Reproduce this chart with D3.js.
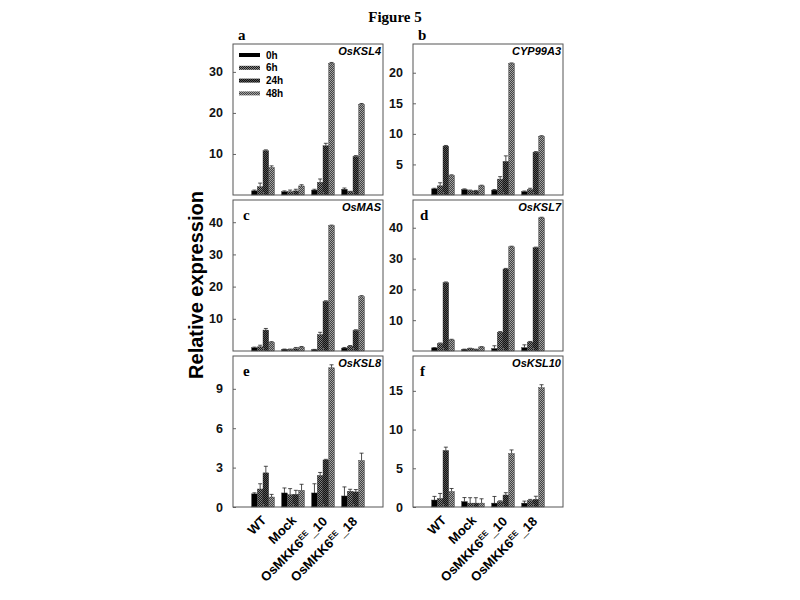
<!DOCTYPE html>
<html>
<head>
<meta charset="utf-8">
<script src="https://cdn.jsdelivr.net/npm/d3@7"></script>
<style>
  body { margin: 0; background: #fff; }
  svg { display: block; }
</style>
</head>
<body>
<div class="container"></div>
<script>
var width = 800, height = 600;

var categories = ["WT", "Mock", "OsMKK6EE_10", "OsMKK6EE_18"];
var series = ["0h", "6h", "24h", "48h"];

// values per panel: [category][series]
var ksl4   = [[1.0, 2.0, 10.8, 6.7], [0.8, 0.8, 1.0, 2.2], [1.2, 3.1, 12.0, 32.1], [1.4, 0.8, 9.4, 22.1]];
var ksl4E  = [[0.2, 0.9, 0.2, 0.4], [0.2, 0.4, 0.4, 0.3], [0.2, 0.8, 0.6, 0.2], [0.3, 0.1, 0.2, 0.2]];
var cyp    = [[1.0, 1.5, 8.0, 3.2], [0.9, 0.7, 0.65, 1.5], [0.8, 2.6, 5.5, 21.5], [0.55, 0.9, 7.0, 9.6]];
var cypE   = [[0.1, 0.5, 0.1, 0.1], [0.1, 0.1, 0.1, 0.1], [0.1, 0.4, 0.9, 0.1], [0.1, 0.2, 0.1, 0.1]];
var mas    = [[1.0, 1.3, 6.5, 2.7], [0.5, 0.5, 0.7, 1.2], [0.4, 5.1, 15.4, 38.9], [0.9, 1.5, 6.4, 16.9]];
var masE   = [[0.2, 0.5, 0.5, 0.2], [0.1, 0.1, 0.4, 0.2], [0.1, 0.7, 0.2, 0.2], [0.2, 0.2, 0.2, 0.3]];
var ksl7   = [[1.0, 2.4, 22.2, 3.6], [0.5, 0.8, 0.5, 1.3], [0.8, 6.1, 26.6, 33.8], [1.1, 2.9, 33.5, 43.2]];
var ksl7E  = [[0.1, 0.2, 0.2, 0.2], [0.1, 0.1, 0.1, 0.1], [0.9, 0.2, 0.2, 0.2], [0.9, 0.2, 0.2, 0.2]];
var ksl8   = [[1.0, 1.37, 2.6, 0.76], [1.07, 0.94, 0.97, 1.27], [1.07, 2.4, 3.58, 10.6], [0.84, 1.2, 1.15, 3.54]];
var ksl8E  = [[0.08, 0.4, 0.5, 0.2], [0.38, 0.46, 0.3, 0.46], [0.7, 0.23, 0.05, 0.23], [0.69, 0.15, 0.18, 0.56]];
var ksl10  = [[0.9, 1.1, 7.3, 2.0], [0.7, 0.5, 0.5, 0.5], [0.5, 0.7, 1.55, 6.9], [0.5, 0.85, 1.0, 15.4]];
var ksl10E = [[0.47, 0.65, 0.43, 0.39], [0.52, 0.7, 0.7, 0.56], [0.86, 0.1, 0.3, 0.47], [0.26, 0.13, 0.39, 0.39]];

var panels = [
  {letter: "a", gene: "OsKSL4",  vals: ksl4,  errs: ksl4E,  ymax: 36.8, ticks: [10, 20, 30],     col: 0, row: 0},
  {letter: "b", gene: "CYP99A3", vals: cyp,   errs: cypE,   ymax: 24.7, ticks: [5, 10, 15, 20],  col: 1, row: 0},
  {letter: "c", gene: "OsMAS",   vals: mas,   errs: masE,   ymax: 46.9, ticks: [10, 20, 30, 40], col: 0, row: 1},
  {letter: "d", gene: "OsKSL7",  vals: ksl7,  errs: ksl7E,  ymax: 49.0, ticks: [10, 20, 30, 40], col: 1, row: 1},
  {letter: "e", gene: "OsKSL8",  vals: ksl8,  errs: ksl8E,  ymax: 11.5, ticks: [0, 3, 6, 9],     col: 0, row: 2},
  {letter: "f", gene: "OsKSL10", vals: ksl10, errs: ksl10E, ymax: 19.5, ticks: [0, 5, 10, 15],   col: 1, row: 2}
];

var pw = 150, ph = 151;
var colX = [233, 413], rowY = [44, 200, 356];

var svg = d3.select("div.container").append("svg")
    .attr("width", width)
    .attr("height", height);

// checker fill patterns for the hatched bars
var defs = svg.append("defs");
var pat = [
  {id: "p6",  a: "#1a1a1a", b: "#808080"},
  {id: "p24", a: "#111111", b: "#555555"},
  {id: "p48", a: "#444444", b: "#a0a0a0"}
];
pat.forEach(function (p) {
  var g = defs.append("pattern").attr("id", p.id)
      .attr("width", 2).attr("height", 2).attr("patternUnits", "userSpaceOnUse");
  g.append("rect").attr("width", 2).attr("height", 2).attr("fill", p.b);
  g.append("rect").attr("width", 1).attr("height", 1).attr("fill", p.a);
  g.append("rect").attr("x", 1).attr("y", 1).attr("width", 1).attr("height", 1).attr("fill", p.a);
});
var fills = ["#000", "url(#p6)", "url(#p24)", "url(#p48)"];

var x0 = d3.scalePoint().domain(categories).range([0, pw]).padding(1);
var x1 = d3.scaleBand().domain(series).range([-11.4, 11.4]);

panels.forEach(function (p) {
  var g = svg.append("g")
      .attr("transform", "translate(" + colX[p.col] + "," + rowY[p.row] + ")");
  var y = d3.scaleLinear().domain([0, p.ymax]).range([ph, 0]);

  // bars
  categories.forEach(function (c, ci) {
    var grp = g.append("g").attr("transform", "translate(" + x0(c) + ",0)");
    series.forEach(function (s, si) {
      var v = p.vals[ci][si], e = p.errs[ci][si];
      var bx = x1(s), bw = x1.bandwidth();
      grp.append("line")
          .attr("x1", bx + bw / 2).attr("x2", bx + bw / 2)
          .attr("y1", y(v)).attr("y2", y(v + e))
          .attr("stroke", "#222").attr("stroke-width", 0.8);
      grp.append("line")
          .attr("x1", bx + bw / 2 - 2).attr("x2", bx + bw / 2 + 2)
          .attr("y1", y(v + e)).attr("y2", y(v + e))
          .attr("stroke", "#222").attr("stroke-width", 0.8);
      grp.append("rect")
          .attr("x", bx).attr("width", bw)
          .attr("y", y(v)).attr("height", ph - y(v))
          .attr("fill", fills[si])
          .attr("stroke", "#333").attr("stroke-width", 0.4);
    });
  });

  // y axis, ticks inward
  g.append("g")
      .call(d3.axisLeft(y).tickValues(p.ticks).tickSize(-3).tickPadding(10).tickFormat(d3.format("d")))
      .call(function (a) {
        a.select(".domain").remove();
        a.selectAll("line").attr("stroke", "#666");
        a.selectAll("text")
            .attr("font-family", "Arial, 'Liberation Sans', sans-serif")
            .attr("font-weight", "bold").attr("font-size", 12.5).attr("fill", "#111");
      });

  // x axis ticks inward, no labels
  g.append("g")
      .attr("transform", "translate(0," + ph + ")")
      .call(d3.axisBottom(x0).tickSize(-3).tickFormat(""))
      .call(function (a) {
        a.select(".domain").remove();
        a.selectAll("line").attr("stroke", "#666");
      });

  // frame
  g.append("rect")
      .attr("width", pw).attr("height", ph)
      .attr("fill", "none").attr("stroke", "#555").attr("stroke-width", 1);

  g.append("text")
      .attr("x", pw - 2).attr("y", 11)
      .attr("text-anchor", "end")
      .attr("font-family", "Arial, 'Liberation Sans', sans-serif")
      .attr("font-weight", "bold").attr("font-style", "italic").attr("font-size", 11)
      .text(p.gene);

  var inside = p.row > 0;
  g.append("text")
      .attr("x", inside ? (p.col ? 7 : 10) : 5).attr("y", inside ? 20 : -4)
      .attr("font-family", "'Liberation Serif', 'Times New Roman', serif")
      .attr("font-weight", "bold").attr("font-size", 15)
      .text(p.letter);

  // category labels under bottom panels
  if (p.row === 2) {
    categories.forEach(function (c) {
      var t = g.append("text")
          .attr("transform", "translate(" + (x0(c) + 1) + "," + (ph + 11) + ") rotate(-45)")
          .attr("text-anchor", "end")
          .attr("dy", "0.35em")
          .attr("font-family", "Arial, 'Liberation Sans', sans-serif")
          .attr("font-weight", "bold").attr("font-size", 13);
      var m = c.match(/^(OsMKK6)EE(_\d+)$/);
      if (m) {
        t.append("tspan").text(m[1]);
        t.append("tspan").attr("font-size", 8).attr("dy", "-0.55em").text("EE");
        t.append("tspan").attr("dy", "0.45em").text(m[2]);
      } else {
        t.text(c);
      }
    });
  }
});

// legend in panel a
var leg = svg.append("g").attr("transform", "translate(239,55)");
series.forEach(function (s, i) {
  leg.append("rect")
      .attr("x", 0).attr("y", i * 12.8 - 2).attr("width", 21).attr("height", 4)
      .attr("fill", fills[i]);
  leg.append("text")
      .attr("x", 27).attr("y", i * 12.8).attr("dy", "0.35em")
      .attr("font-family", "Arial, 'Liberation Sans', sans-serif")
      .attr("font-weight", "bold").attr("font-size", 10)
      .text(s);
});

svg.append("text")
    .attr("x", 395).attr("y", 22)
    .attr("text-anchor", "middle")
    .attr("font-family", "'Liberation Serif', 'Times New Roman', serif")
    .attr("font-weight", "bold").attr("font-size", 15)
    .text("Figure 5");

svg.append("text")
    .attr("transform", "translate(203,285) rotate(-90)")
    .attr("text-anchor", "middle")
    .attr("font-family", "Arial, 'Liberation Sans', sans-serif")
    .attr("font-weight", "bold").attr("font-size", 20)
    .text("Relative expression");
</script>
</body>
</html>
